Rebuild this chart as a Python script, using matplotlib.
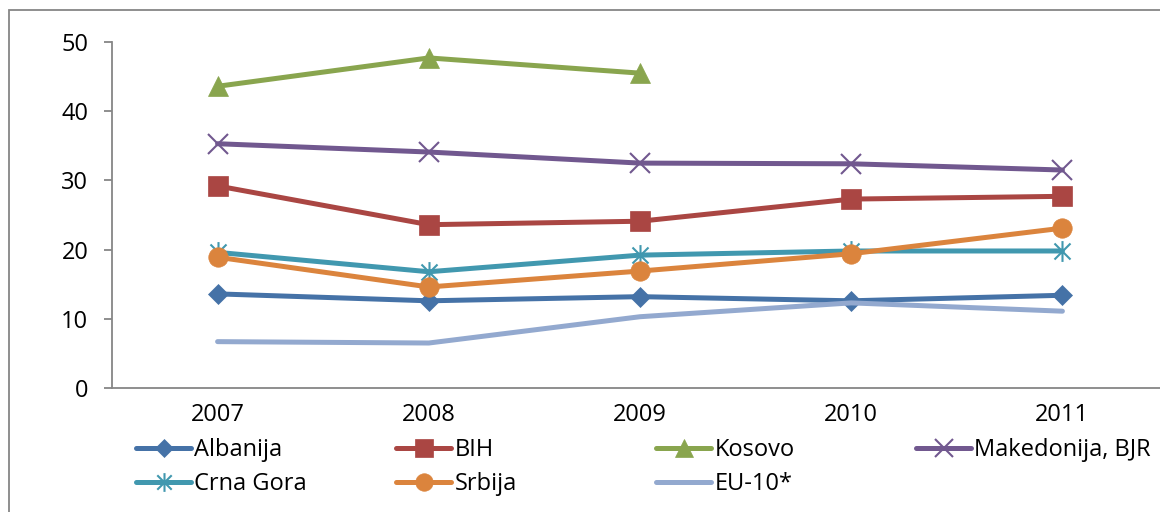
import numpy as np
import matplotlib
matplotlib.use("Agg")
import matplotlib.pyplot as plt
from matplotlib.path import Path
from matplotlib.patches import Rectangle

plt.rcParams['font.family'] = ['Open Sans', 'DejaVu Sans']

years = ['2007', '2008', '2009', '2010', '2011']

albanija = [13.6, 12.6, 13.2, 12.6, 13.4]
bih = [29.2, 23.6, 24.1, 27.3, 27.7]
kosovo = [43.6, 47.7, 45.5, np.nan, np.nan]
makedonija = [35.3, 34.1, 32.5, 32.4, 31.5]
crna_gora = [19.6, 16.8, 19.2, 19.8, 19.8]
srbija = [18.9, 14.6, 16.9, 19.4, 23.1]
eu10 = [6.7, 6.5, 10.3, 12.3, 11.1]

# asterisk marker: an X with a vertical bar through it
star = Path([(-1, -1), (1, 1), (-1, 1), (1, -1), (0, -1.3), (0, 1.3)],
            [Path.MOVETO, Path.LINETO] * 3)

series = [
    ('Albanija', albanija, '#4572A7', 'D', 10),
    ('BIH', bih, '#AA4643', 's', 14),
    ('Kosovo', kosovo, '#89A54E', '^', 15),
    ('Makedonija, BJR', makedonija, '#71588F', 'x', 14),
    ('Crna Gora', crna_gora, '#4198AF', star, 15),
    ('Srbija', srbija, '#DB843D', 'o', 14),
    ('EU-10*', eu10, '#93A9CF', None, 0),
]

W, H = 1160, 512
fig = plt.figure(figsize=(W / 100, H / 100), dpi=100)
ax = fig.add_axes([112 / W, 1 - 388 / H, 1056 / W, 346 / H])

x = np.arange(len(years))
lines = {}
for name, vals, col, mk, ms in series:
    thin = mk in ('x',) or isinstance(mk, Path)
    ln, = ax.plot(x, vals, color=col, lw=3.6, marker=mk, ms=ms,
                  mfc=col, mec=col, mew=1.5 if thin else 0.5,
                  solid_capstyle='round', label=name)
    lines[name] = ln

ax.set_xlim(-0.5, 4.5)
ax.set_ylim(0, 50)
ax.set_yticks(range(0, 51, 10))
ax.set_xticks(x)
ax.set_xticklabels(years)
for s in ['top', 'right']:
    ax.spines[s].set_visible(False)
for s in ['left', 'bottom']:
    ax.spines[s].set_color('#868686')
    ax.spines[s].set_linewidth(1.3)
ax.tick_params(axis='y', length=6, width=1.3, color='#868686', pad=11, labelsize=17)
ax.tick_params(axis='x', length=0, pad=11, labelsize=17)

# legend laid out in four evenly spaced columns
cols = [['Albanija', 'Crna Gora'], ['BIH', 'Srbija'],
        ['Kosovo', 'EU-10*'], ['Makedonija, BJR']]
for i, names in enumerate(cols):
    leg = fig.legend([lines[n] for n in names], names, loc='upper left',
                     bbox_to_anchor=((136 + 260 * i) / W, 1 - 438 / H),
                     frameon=False, fontsize=17, borderpad=0, borderaxespad=0,
                     handlelength=2.35, handletextpad=0.12, labelspacing=0.42,
                     markerscale=0.9)

fig.add_artist(Rectangle((9 / W, -0.1), 2, 1 - 10 / H + 0.1,
                         transform=fig.transFigure, fill=False,
                         ec='#868686', lw=1.3))

fig.savefig('out.png', dpi=100, facecolor='white')
